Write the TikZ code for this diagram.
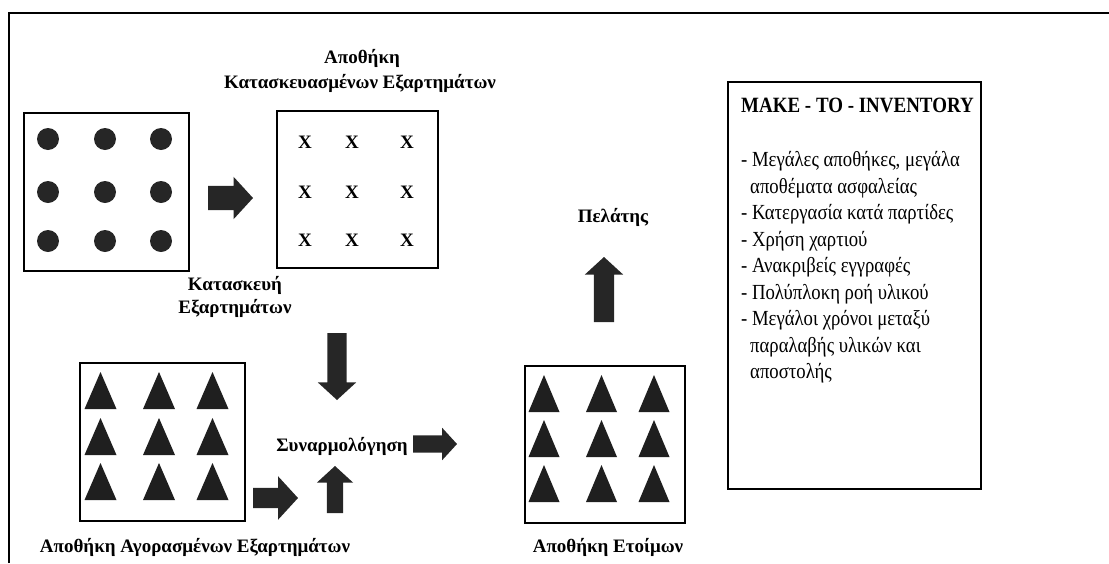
\documentclass[tikz,border=0pt]{standalone}
\usepackage{fontspec}
\setmainfont{Liberation Serif}
\newfontfamily\condfont[FakeStretch=0.87]{Liberation Serif}
\usetikzlibrary{shapes.arrows}
\tikzset{
  blk/.style={single arrow, fill=black!85, draw=none, inner xsep=0pt, outer sep=0pt, single arrow tip angle=95, anchor=tail},
  box/.style={draw=black, line width=1.5pt, inner sep=0pt},
  lbl/.style={font=\fontsize{19}{22}\selectfont\bfseries, anchor=base, inner sep=0pt},
  item/.style={font=\condfont\fontsize{21.5}{24}\selectfont, anchor=base west, inner sep=0pt},
  xmark/.style={font=\fontsize{19}{22}\selectfont\bfseries, inner sep=0pt},
  tri/.style={fill=black!88},
  dot/.style={fill=black!85},
}
\begin{document}
\begin{tikzpicture}[x=1pt,y=-1pt]
\useasboundingbox (0,0) rectangle (1109,563);
\draw[line width=1.8pt] (9,563) -- (9,13) -- (1109,13);

% boxes
\node[box, minimum width=165, minimum height=158] (b1) at (106.5,192) {};
\node[box, minimum width=161, minimum height=157] (b2) at (357.5,189.5) {};
\node[box, minimum width=165, minimum height=158] (b3) at (162.5,442) {};
\node[box, minimum width=160, minimum height=157] (b4) at (605,444.5) {};
\node[box, minimum width=253, minimum height=407] (info) at (854.5,285.5) {};

% dots
\foreach \x in {48,105,161} \foreach \y in {139,192,241} \fill[dot] (\x,\y) circle (11);
% x marks
\foreach \x in {305,352,407} \foreach \y in {142,192,240} \node[xmark] at (\x,\y) {X};
% triangles
\foreach \x in {100.5,159,212.5} \foreach \t in {372,418,463} \fill[tri] (\x-16,\t+37) -- (\x,\t) -- (\x+16,\t+37) -- cycle;
\foreach \x in {544,601.5,654} \foreach \t in {375,420,465} \fill[tri] (\x-15.5,\t+37) -- (\x,\t) -- (\x+15.5,\t+37) -- cycle;

% block arrows (placed by their tail; inner ysep = half body width)
\node[blk, minimum height=45, inner ysep=12, single arrow head extend=9] (a1) at (208,198) {};
\node[blk, minimum height=67, inner ysep=9.5, single arrow head extend=9.5, rotate=-90] (a2) at (337,333) {};
\node[blk, minimum height=44, inner ysep=8.5, single arrow head extend=7.5] (a3) at (413,444) {};
\node[blk, minimum height=47, inner ysep=8, single arrow head extend=10, rotate=90] (a4) at (335,513) {};
\node[blk, minimum height=45, inner ysep=10, single arrow head extend=11.5] (a5) at (253,498) {};
\node[blk, minimum height=65, inner ysep=10, single arrow head extend=9, rotate=90] (a6) at (604,322) {};

% labels
\node[lbl] (t1) at (362,63) {Αποθήκη};
\node[lbl] (t2) at (360,88) {Κατασκευασμένων Εξαρτημάτων};
\node[lbl] (t3) at (235,290) {Κατασκευή};
\node[lbl] (t4) at (235,313) {Εξαρτημάτων};
\node[lbl] (t5) at (342,451) {Συναρμολόγηση};
\node[lbl] (t6) at (195,552) {Αποθήκη Αγορασμένων Εξαρτημάτων};
\node[lbl] (t7) at (608,552) {Αποθήκη Ετοίμων};
\node[lbl] (t8) at (613,222) {Πελάτης};

% info text
\node[lbl, anchor=base west, font=\condfont\fontsize{21.8}{24}\selectfont\bfseries] (mk) at (741,112) {MAKE - TO - INVENTORY};
\node[item] (i1) at (741,166.5) {- Μεγάλες αποθήκες, μεγάλα};
\node[item] (i2) at (750,193) {αποθέματα ασφαλείας};
\node[item] (i3) at (741,219.5) {- Κατεργασία κατά παρτίδες};
\node[item] (i4) at (741,246) {- Χρήση χαρτιού};
\node[item] (i5) at (741,272.5) {- Ανακριβείς εγγραφές};
\node[item] (i6) at (741,299) {- Πολύπλοκη ροή υλικού};
\node[item] (i7) at (741,325.5) {- Μεγάλοι χρόνοι μεταξύ};
\node[item] (i8) at (750,352) {παραλαβής υλικών και};
\node[item] (i9) at (750,378.5) {αποστολής};
\end{tikzpicture}
\end{document}
